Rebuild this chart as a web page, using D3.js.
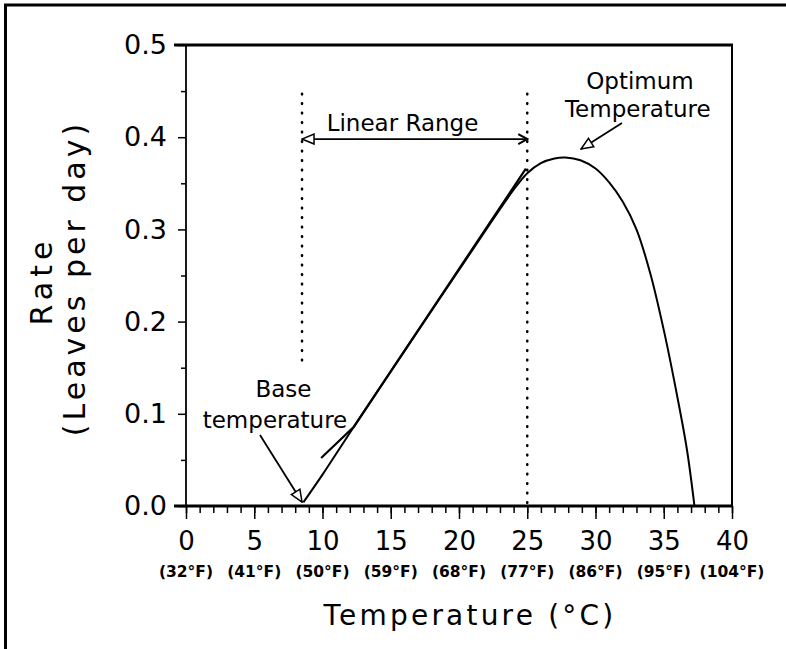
<!DOCTYPE html>
<html>
<head>
<meta charset="utf-8">
<script src="https://cdn.jsdelivr.net/npm/d3@7"></script>
<style>
  body { margin: 0; background: #fff; }
  text { font-family: "DejaVu Sans", sans-serif; fill: #000; }
</style>
</head>
<body>
<div id="vis-container"></div>
<script>
// data
let tempTicks = [0, 5, 10, 15, 20, 25, 30, 35, 40];
let fahrenheitLabels = ["(32°F)", "(41°F)", "(50°F)", "(59°F)", "(68°F)", "(77°F)", "(86°F)", "(95°F)", "(104°F)"];
let rateTicks = [0, 0.1, 0.2, 0.3, 0.4, 0.5];

// development rate curve
let curveTemp = [8.6, 10, 12.3, 16, 20, 24, 25, 26, 27, 27.8, 28.9, 30, 31, 32, 33, 34, 35, 36, 36.7, 37.25];
let curveRate = [0.004, 0.034, 0.086, 0.168, 0.256, 0.343, 0.361, 0.372, 0.377, 0.378, 0.375, 0.366, 0.351, 0.330, 0.300, 0.253, 0.191, 0.118, 0.061, 0.0];

// straight line over the linear range
let fitTemp = [9.9, 12.3, 24.9];
let fitRate = [0.052, 0.086, 0.366];

// base and optimum markers
let baseTemp = 8.5;
let linearEnd = 25;

let width = 786, height = 649;

let svg = d3.select("#vis-container")
  .append("svg")
  .attr("width", width)
  .attr("height", height);

//scales
let x = d3.scaleLinear().domain([0, 40]).range([186, 732]);
let y = d3.scaleLinear().domain([0, 0.5]).range([506, 45]);

//arrow heads
let defs = svg.append("defs");
defs.append("marker")
  .attr("id", "tri")
  .attr("markerUnits", "userSpaceOnUse")
  .attr("viewBox", "-1 -1 14 12")
  .attr("refX", 12).attr("refY", 5)
  .attr("markerWidth", 14).attr("markerHeight", 12)
  .attr("orient", "auto-start-reverse")
  .append("path")
  .attr("d", "M0,0 L12,5 L0,10 Z")
  .attr("fill", "#fff")
  .attr("stroke", "#000")
  .attr("stroke-width", 1.5);

defs.append("marker")
  .attr("id", "chev")
  .attr("markerUnits", "userSpaceOnUse")
  .attr("viewBox", "-2 -2 14 14")
  .attr("refX", 10).attr("refY", 5)
  .attr("markerWidth", 14).attr("markerHeight", 14)
  .attr("orient", "auto")
  .append("path")
  .attr("d", "M1,0 L10,5 L1,10")
  .attr("fill", "none")
  .attr("stroke", "#000")
  .attr("stroke-width", 2);

//outer frame
svg.append("line").attr("x1", 5.5).attr("x2", 5.5).attr("y1", 4).attr("y2", height)
  .attr("stroke", "#000").attr("stroke-width", 3);
svg.append("line").attr("x1", 4).attr("x2", width).attr("y1", 5).attr("y2", 5)
  .attr("stroke", "#000").attr("stroke-width", 3);

//y axis
let yAxis = d3.axisLeft(y)
  .tickValues(rateTicks)
  .tickSize(8)
  .tickPadding(11)
  .tickFormat(d3.format(".1f"));

let yAxisGroup = svg.append("g")
  .attr("transform", `translate(${x(0)},0)`)
  .call(yAxis);
yAxisGroup.select(".domain").remove();
yAxisGroup.selectAll("line").attr("stroke-width", 1.5);
yAxisGroup.selectAll("text")
  .attr("font-size", "27px")
  .attr("font-family", "DejaVu Sans");

let yMinor = d3.axisLeft(y)
  .tickValues(d3.range(5).map(i => rateTicks[i] + 0.05))
  .tickSize(5)
  .tickFormat("");
let yMinorGroup = svg.append("g")
  .attr("transform", `translate(${x(0)},0)`)
  .call(yMinor);
yMinorGroup.select(".domain").remove();
yMinorGroup.selectAll("line").attr("stroke-width", 1.5);

//x axis
let xMinor = d3.axisBottom(x)
  .tickValues(d3.range(41))
  .tickSize(7)
  .tickFormat("");
let xMinorGroup = svg.append("g")
  .attr("transform", `translate(0,${y(0)})`)
  .call(xMinor);
xMinorGroup.select(".domain").remove();
xMinorGroup.selectAll("line").attr("stroke-width", 1.5);

let xAxis = d3.axisBottom(x)
  .tickValues(tempTicks)
  .tickSize(13)
  .tickFormat(d => d);
let xAxisGroup = svg.append("g")
  .attr("transform", `translate(0,${y(0)})`)
  .call(xAxis);
xAxisGroup.select(".domain").remove();
xAxisGroup.selectAll("line").attr("stroke-width", 1.5);
xAxisGroup.selectAll("text")
  .attr("y", 44)
  .attr("dy", 0)
  .attr("font-size", "26px")
  .attr("font-family", "DejaVu Sans");

//fahrenheit labels
svg.append("g").selectAll("text")
  .data(tempTicks)
  .enter()
  .append("text")
  .attr("x", d => x(d))
  .attr("y", y(0) + 71)
  .attr("text-anchor", "middle")
  .attr("font-size", "15.5px")
  .attr("font-weight", "bold")
  .text((d, i) => fahrenheitLabels[i]);

//frame of the plot
svg.append("line")
  .attr("x1", x(0)).attr("x2", x(0)).attr("y1", y(0)).attr("y2", y(0.5))
  .attr("stroke", "#000").attr("stroke-width", 1.8);
svg.append("line")
  .attr("x1", x(40)).attr("x2", x(40)).attr("y1", y(0)).attr("y2", y(0.5))
  .attr("stroke", "#000").attr("stroke-width", 2);
svg.append("line")
  .attr("x1", x(0) - 12).attr("x2", x(40) + 1).attr("y1", y(0.5)).attr("y2", y(0.5))
  .attr("stroke", "#000").attr("stroke-width", 2.8);
svg.append("line")
  .attr("x1", x(0) - 12).attr("x2", x(40) + 1).attr("y1", y(0)).attr("y2", y(0))
  .attr("stroke", "#000").attr("stroke-width", 3);

//dotted markers
svg.append("line")
  .attr("x1", x(baseTemp)).attr("x2", x(baseTemp))
  .attr("y1", y(0.447)).attr("y2", y(0.149))
  .attr("stroke", "#000").attr("stroke-width", 2.6)
  .attr("stroke-linecap", "round")
  .attr("stroke-dasharray", "0.5,9");
svg.append("line")
  .attr("x1", x(linearEnd)).attr("x2", x(linearEnd))
  .attr("y1", y(0.447)).attr("y2", y(0))
  .attr("stroke", "#000").attr("stroke-width", 2.6)
  .attr("stroke-linecap", "round")
  .attr("stroke-dasharray", "0.5,9");

//curves
let line = d3.line()
  .x(d => x(d[0]))
  .y(d => y(d[1]))
  .curve(d3.curveCatmullRom.alpha(0.5));

svg.append("path")
  .datum(curveTemp.map((t, i) => [t, curveRate[i]]))
  .attr("d", line)
  .attr("fill", "none")
  .attr("stroke", "#000")
  .attr("stroke-width", 2);

svg.append("path")
  .datum(fitTemp.map((t, i) => [t, fitRate[i]]))
  .attr("d", d3.line().x(d => x(d[0])).y(d => y(d[1])))
  .attr("fill", "none")
  .attr("stroke", "#000")
  .attr("stroke-width", 2.2);

//annotations
function arrow(x1, y1, x2, y2, startMarker, endMarker) {
  let a = svg.append("line")
    .attr("x1", x(x1)).attr("y1", y(y1))
    .attr("x2", x(x2)).attr("y2", y(y2))
    .attr("stroke", "#000").attr("stroke-width", 1.8);
  if (startMarker) a.attr("marker-start", `url(#${startMarker})`);
  if (endMarker) a.attr("marker-end", `url(#${endMarker})`);
}

arrow(baseTemp, 0.398, linearEnd, 0.398, "tri", "chev");
arrow(31.94, 0.4154, 28.94, 0.3872, null, "tri");
arrow(5.42, 0.077, 8.5, 0.0043, null, "tri");

function label(t, r, txt) {
  svg.append("text")
    .attr("x", x(t)).attr("y", y(r))
    .attr("text-anchor", "middle")
    .attr("font-size", "23px")
    .text(txt);
}
label(15.86, 0.4067, "Linear Range");
label(33.26, 0.452, "Optimum");
label(33.1, 0.4223, "Temperature");
label(7.14, 0.1185, "Base");
label(6.52, 0.0843, "temperature");

//axis titles
svg.append("text")
  .attr("x", 470)
  .attr("y", 625)
  .attr("text-anchor", "middle")
  .attr("font-size", "28px")
  .attr("letter-spacing", "3.2px")
  .text("Temperature (°C)");

svg.append("text")
  .attr("transform", "translate(52,281) rotate(-90)")
  .attr("text-anchor", "middle")
  .attr("font-size", "30px")
  .attr("letter-spacing", "5px")
  .text("Rate");

svg.append("text")
  .attr("transform", "translate(85,278) rotate(-90)")
  .attr("text-anchor", "middle")
  .attr("font-size", "30px")
  .attr("letter-spacing", "4px")
  .text("(Leaves per day)");
</script>
</body>
</html>
